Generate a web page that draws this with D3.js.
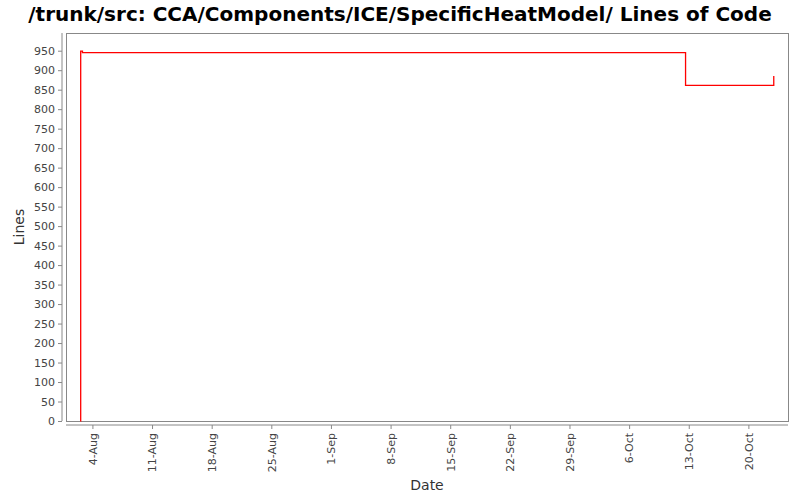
<!DOCTYPE html>
<html>
<head>
<meta charset="utf-8">
<script src="https://cdn.jsdelivr.net/npm/d3@7"></script>
<style>
body { margin: 0; background: #fff; }
text { font-family: "DejaVu Sans", sans-serif; }
</style>
</head>
<body>
<script>
var width = 800, height = 500;

// data: steps of the line (date, lines of code)
var dates = ["2003-08-02T14:00", "2003-08-02T15:00", "2003-08-02T20:00", "2003-10-12T15:00", "2003-10-22T23:00", "2003-10-22T23:30"];
var lines = [0, 949, 945, 861, 861, 885];
var xTicks = ["2003-08-04", "2003-08-11", "2003-08-18", "2003-08-25", "2003-09-01", "2003-09-08",
  "2003-09-15", "2003-09-22", "2003-09-29", "2003-10-06", "2003-10-13", "2003-10-20"];
var yTicks = d3.range(0, 951, 50);

var parse = d3.utcParse("%Y-%m-%dT%H:%M");
var parseDay = d3.utcParse("%Y-%m-%d");
var data = dates.map(function(d, i) { return {date: parse(d), value: lines[i]}; });

var plot = {left: 66, right: 788, top: 33, bottom: 421};

var svg = d3.select("body").append("svg")
  .attr("width", width)
  .attr("height", height);

var x = d3.scaleUtc()
  .domain([parseDay("2003-08-04").getTime() - 3.1 * 864e5, parseDay("2003-10-20").getTime() + 4.65 * 864e5])
  .range([plot.left, plot.right]);

var y = d3.scaleLinear()
  .domain([0, 950])
  .range([421, 50.7]);

// plot box
svg.append("rect")
  .attr("x", plot.left + 0.5)
  .attr("y", plot.top + 0.5)
  .attr("width", plot.right - plot.left)
  .attr("height", plot.bottom - plot.top)
  .attr("fill", "#fff")
  .attr("stroke", "#888")
  .attr("stroke-width", 1);

// y axis
var yAxis = d3.axisLeft(y)
  .tickValues(yTicks)
  .tickSize(4)
  .tickPadding(3);

var gy = svg.append("g")
  .attr("transform", "translate(62,0)")
  .call(yAxis);
gy.select(".domain").attr("stroke", "#888").attr("d", "M0," + plot.top + "V" + plot.bottom);
gy.selectAll(".tick line").attr("stroke", "#888");
gy.selectAll(".tick text")
  .attr("fill", "#444")
  .style("font-size", "11px");

// x axis
var xAxis = d3.axisBottom(x)
  .tickValues(xTicks.map(parseDay))
  .tickFormat(d3.utcFormat("%-d-%b"))
  .tickSize(4);

var gx = svg.append("g")
  .attr("transform", "translate(0,425)")
  .call(xAxis);
gx.select(".domain").attr("stroke", "#888").attr("d", "M" + plot.left + ",0H" + plot.right);
gx.selectAll(".tick line").attr("stroke", "#888");
gx.selectAll(".tick text")
  .attr("fill", "#444")
  .style("font-size", "11px")
  .attr("text-anchor", "end")
  .attr("transform", "rotate(-90)")
  .attr("x", -8)
  .attr("y", 0)
  .attr("dy", "0.35em");

// line
var line = d3.line()
  .x(function(d) { return x(d.date); })
  .y(function(d) { return y(d.value); })
  .curve(d3.curveStepAfter);

svg.append("path")
  .datum(data)
  .attr("fill", "none")
  .attr("stroke", "#ff0000")
  .attr("stroke-width", 1.3)
  .attr("d", line);

// title
svg.append("text")
  .attr("x", 400)
  .attr("y", 21)
  .attr("text-anchor", "middle")
  .style("font-size", "20px")
  .style("font-weight", "bold")
  .text("/trunk/src: CCA/Components/ICE/SpecificHeatModel/ Lines of Code");

// axis labels
svg.append("text")
  .attr("x", (plot.left + plot.right) / 2)
  .attr("y", 490)
  .attr("text-anchor", "middle")
  .attr("fill", "#333")
  .style("font-size", "14px")
  .text("Date");

svg.append("text")
  .attr("transform", "translate(24," + (plot.top + plot.bottom) / 2 + ") rotate(-90)")
  .attr("text-anchor", "middle")
  .attr("fill", "#333")
  .style("font-size", "14px")
  .text("Lines");
</script>
</body>
</html>
